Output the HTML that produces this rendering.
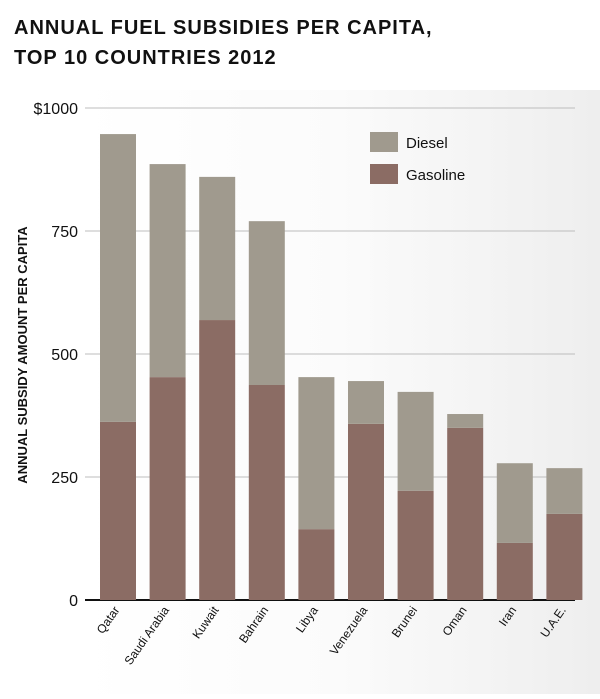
<!DOCTYPE html>
<html><head><meta charset="utf-8"><style>
body{margin:0;width:600px;height:694px;overflow:hidden;font-family:"Liberation Sans",sans-serif;}
</style></head><body>
<svg width="600" height="694" xmlns="http://www.w3.org/2000/svg">
<defs><linearGradient id="bg" x1="0" x2="1" y1="0" y2="0"><stop offset="0" stop-color="#fff"/><stop offset="0.5" stop-color="#fbfbfb"/><stop offset="1" stop-color="#eeeeee"/></linearGradient></defs>
<rect x="0" y="0" width="600" height="694" fill="#fff"/>
<rect x="80" y="90" width="520" height="604" fill="url(#bg)"/>
<text x="14" y="34" font-size="20" font-weight="bold" letter-spacing="1" fill="#111">ANNUAL FUEL SUBSIDIES PER CAPITA,</text>
<text x="14" y="64" font-size="20" font-weight="bold" letter-spacing="1" fill="#111">TOP 10 COUNTRIES 2012</text>
<text transform="translate(27,355) rotate(-90)" text-anchor="middle" font-size="13" font-weight="bold" fill="#111">ANNUAL SUBSIDY AMOUNT PER CAPITA</text>
<g id="grid"></g><g id="bars"></g><g id="labels"></g>
<rect x="370" y="132" width="28" height="20" fill="#a09a8e"/>
<text x="406" y="148" font-size="15" fill="#111">Diesel</text>
<rect x="370" y="164" width="28" height="20" fill="#8b6c64"/>
<text x="406" y="180" font-size="15" fill="#111">Gasoline</text>
</svg>
<script>
const categories=["Qatar","Saudi Arabia","Kuwait","Bahrain","Libya","Venezuela","Brunei","Oman","Iran","U.A.E."];
const gasoline=[362,453,569,437,144,358,222,350,116,175];
const diesel=[585,433,291,333,309,87,201,28,162,93];
const ticks=[0,250,500,750,1000];
const tickLabels=["0","250","500","750","$1000"];
const NS="http://www.w3.org/2000/svg";
const y=v=>600-v*0.492;
const x0=100,step=49.6,bw=36;
const grid=document.getElementById('grid'),bars=document.getElementById('bars'),labels=document.getElementById('labels');
function mk(t,a){const e=document.createElementNS(NS,t);for(const k in a)e.setAttribute(k,a[k]);return e;}
ticks.forEach((t,i)=>{
  const l=mk('line',{x1:85,x2:575,y1:y(t),y2:y(t),stroke:t===0?'#111':'#bdbdbd','stroke-width':t===0?2:1});
  
  
  grid.appendChild(l);
  const tx=mk('text',{x:78,y:y(t)+6,'text-anchor':'end','font-size':16,fill:'#111'});
  tx.textContent=tickLabels[i];
  
  
  grid.appendChild(tx);
});
categories.forEach((c,i)=>{
  const bx=x0+i*step;
  const g=mk('rect',{x:bx,y:y(gasoline[i]),width:bw,height:600-y(gasoline[i]),fill:'#8b6c64'});
  
  
  bars.appendChild(g);
  const d=mk('rect',{x:bx,y:y(gasoline[i]+diesel[i]),width:bw,height:diesel[i]*0.492,fill:'#a09a8e'});
  
  
  bars.appendChild(d);
  const t=mk('text',{transform:`translate(${bx+bw/2+2},610) rotate(-55)`,'text-anchor':'end','font-size':12,fill:'#111'});
  t.textContent=c;
  
  
  labels.appendChild(t);
});
</script>
</body></html>
